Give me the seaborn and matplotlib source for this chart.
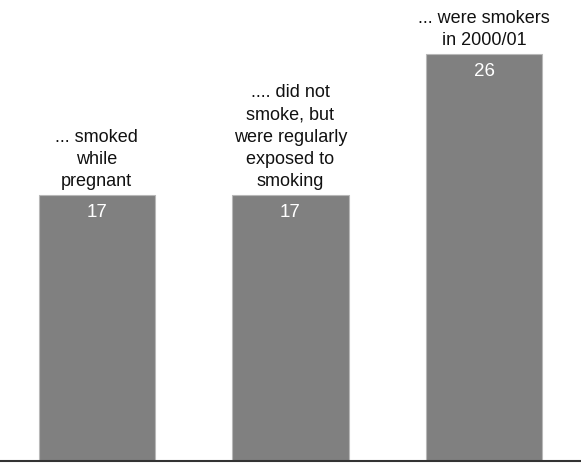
import matplotlib
matplotlib.use("Agg")
import matplotlib.pyplot as plt
import seaborn as sns
import pandas as pd

categories = ["smoked while pregnant", "exposed", "smokers 2000/01"]
values = [17, 17, 26]
annotations = ["... smoked\nwhile\npregnant",
               ".... did not\nsmoke, but\nwere regularly\nexposed to\nsmoking",
               "... were smokers\nin 2000/01"]

sns.set_style("white")
plt.rcParams['font.family'] = ['Liberation Sans Narrow', 'Liberation Sans', 'DejaVu Sans']

df = pd.DataFrame({"cat": categories, "val": values})
fig = plt.figure(figsize=(5.81, 4.64), dpi=100)
ax = fig.add_axes([0, 2 / 464, 1, 462 / 464])
sns.barplot(data=df, x="cat", y="val", color="#808080", width=0.6,
            edgecolor="#b8b8b8", linewidth=0.8, saturation=1, ax=ax)
ax.set_xlim(-0.5, 2.5)
ax.set_ylim(0, 29.5)
for s in ["top", "left", "right"]:
    ax.spines[s].set_visible(False)
ax.spines["bottom"].set_color("#333333")
ax.spines["bottom"].set_linewidth(1.5)
ax.set_xticks([])
ax.set_yticks([])
ax.set_xlabel("")
ax.set_ylabel("")

for i, (v, t) in enumerate(zip(values, annotations)):
    ax.annotate(str(v), (i, v), xytext=(0, -6), textcoords="offset points",
                ha="center", va="top", color="white", fontsize=13.5,
                fontweight="medium")
    ax.annotate(t, (i, v), xytext=(0, 4), textcoords="offset points",
                ha="center", va="bottom", color="#111111", fontsize=13,
                linespacing=1.4)

fig.savefig("out.png", dpi=100)
